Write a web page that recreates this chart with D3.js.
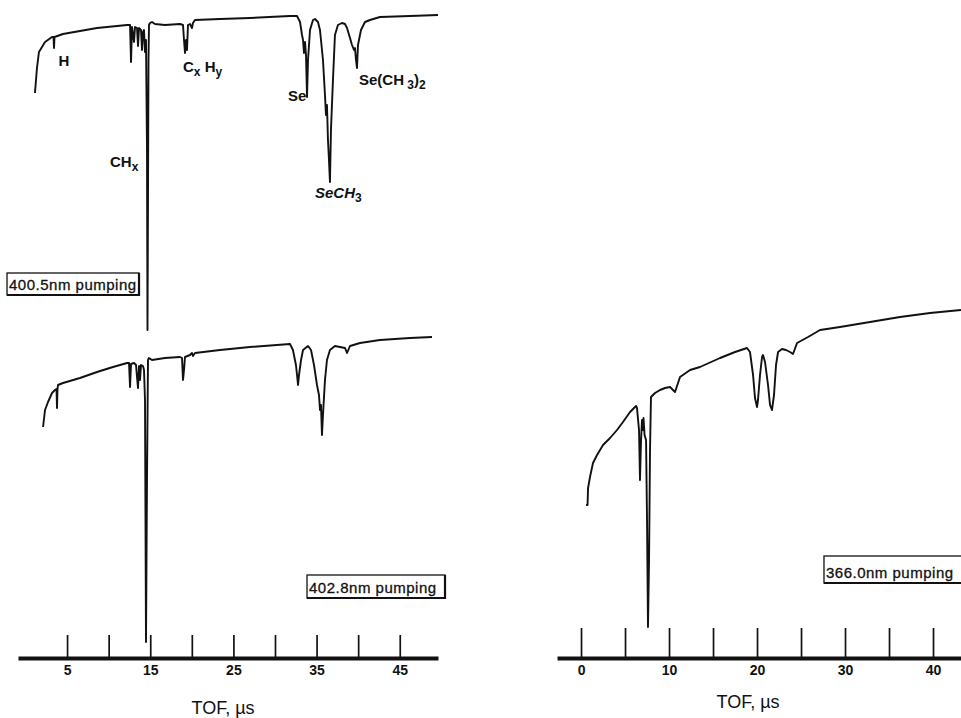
<!DOCTYPE html>
<html>
<head>
<meta charset="utf-8">
<script src="https://cdn.jsdelivr.net/npm/d3@7"></script>
<style>
  body { margin: 0; background: #fff; }
  text { font-family: "Liberation Sans", Arial, Helvetica, sans-serif; fill: #111; }
</style>
</head>
<body>
<div id="chart"></div>
<script>
// TOF traces: time in microseconds, signal in arbitrary units (ion peaks are dips)
var topTof = [1.14,1.38,1.62,2.35,3.19,3.37,3.43,3.49,4.51,6.55,8.60,12.21,12.57,12.69,12.81,13.05,13.17,13.41,13.53,13.65,
  13.89,14.01,14.13,14.25,14.37,14.49,14.61,14.67,14.73,14.79,14.85,14.97,15.21,15.57,16.77,18.58,18.94,19.06,19.18,19.30,
  19.42,19.54,19.78,20.02,20.14,20.38,23.39,26.99,31.80,32.65,33.01,33.25,33.37,33.49,33.61,33.73,33.85,33.97,34.21,34.57,
  34.81,35.17,35.41,35.77,36.01,36.13,36.25,36.37,36.49,36.61,36.73,36.97,37.21,37.57,38.05,38.42,38.66,39.02,39.26,39.50,
  39.62,39.74,39.86,39.98,40.34,40.82,41.42,42.62,46.23,49.60];
var topSignal = [247,272,288,298,303,303,292,303,306,309,312,315,315,278,313,298,313,312,294,312,
  310,290,308,310,288,300,190,10,140,280,315,317,318,316,315,316,315,300,287,300,
  290,315,316,312,317,320,321,322,324,324,318,305,300,287,298,285,243,280,310,320,
  321,318,310,280,245,225,235,200,180,158,210,260,305,315,317,316,312,302,295,290,
  292,280,272,295,310,318,320,323,324,325];

var lowTof = [2.11,2.35,2.71,3.19,3.55,3.73,3.79,3.85,3.91,4.51,6.55,8.60,10.52,12.21,12.45,12.57,12.69,13.05,13.29,13.41,
  13.53,13.65,13.77,13.89,14.13,14.25,14.37,14.49,14.61,14.73,14.85,15.21,16.77,18.58,18.82,18.94,19.06,19.18,19.78,20.02,
  20.14,20.38,23.39,26.99,31.80,32.16,32.40,32.52,32.65,32.77,32.89,33.13,33.37,33.97,34.33,34.69,35.05,35.29,35.41,35.53,
  35.65,35.77,36.01,36.25,36.61,37.21,37.81,38.42,38.66,39.02,40.22,42.62,46.23,48.88];
var lowSignal = [233,250,258,267,270,271,252,271,275,277,282,288,293,297,297,273,296,297,295,283,
  272,294,280,295,294,290,260,18,180,300,302,300,302,303,302,280,290,303,305,307,
  304,307,310,313,316,310,300,295,285,275,285,300,310,314,310,295,275,265,250,255,
  225,245,280,300,310,314,313,312,307,314,317,320,322,323];

var rightTof = [0.57,0.74,0.80,1.02,1.36,1.82,2.50,3.30,4.09,4.77,5.57,6.25,6.36,6.59,6.70,6.82,6.93,7.05,7.10,7.22,
  7.39,7.50,7.61,7.73,7.84,7.95,8.41,8.98,9.55,10.11,10.68,11.25,12.39,13.52,15.80,17.50,18.86,19.20,19.55,19.77,
  20.00,20.11,20.34,20.57,20.68,20.91,21.25,21.48,21.70,21.93,22.16,22.39,22.84,23.30,23.75,24.09,24.55,25.80,27.16,29.43,
  32.84,36.25,39.66,43.18];
var rightSignal = [155,155,172,183,197,205,215,222,230,238,248,254,252,230,180,220,240,230,242,225,
  220,140,33,100,210,263,267,270,272,273,268,283,290,293,302,308,312,308,285,262,
  253,260,285,303,305,298,275,255,250,265,295,308,311,310,308,306,317,323,330,333,
  338,343,347,350];

// tick values and which ones carry a label
var leftTicks = [5, 10, 15, 20, 25, 30, 35, 40, 45];
var leftTickLabels = [5, 15, 25, 35, 45];
var rightTicks = [0, 5, 10, 15, 20, 25, 30, 35, 40];
var rightTickLabels = [0, 10, 20, 30, 40];

// peak assignments of the top trace (anchor in tof / signal units), parts: [text, "sub"?]
var peakLabels = [
  { tof: 4.63, signal: 274, anchor: "middle", parts: [["H"]] },
  { tof: 10.16, signal: 173, anchor: "start", parts: [["CH"], ["x", "sub"]] },
  { tof: 18.94, signal: 268, anchor: "start", parts: [["C"], ["x", "sub"], [" H"], ["y", "sub"]] },
  { tof: 31.56, signal: 239, anchor: "start", parts: [["Se"]] },
  { tof: 34.81, signal: 142, anchor: "start", italic: true, parts: [["SeCH"], ["3", "sub"]] },
  { tof: 40.10, signal: 255, anchor: "start", parts: [["Se(CH"], [" 3", "sub"], [")"], ["2", "sub"]] }
];

var width = 961, height = 718;

var svg = d3.select("#chart")
  .append("svg")
  .attr("width", width)
  .attr("height", height)
  .style("background", "#fff");

// scales: the two left traces share one time axis
var leftX = d3.scaleLinear().domain([-0.9, 49.6]).range([18, 438]);
var rightX = d3.scaleLinear().domain([-2.73, 43.18]).range([557, 961]);
var topY = d3.scaleLinear().domain([0, 340]).range([340, 0]);
var lowY = d3.scaleLinear().domain([0, 340]).range([660, 320]);
var rightY = d3.scaleLinear().domain([0, 370]).range([660, 290]);

function drawTrace(xs, ys, tof, signal) {
  var pts = tof.map(function (t, i) { return [t, signal[i]]; });
  var line = d3.line()
    .x(function (d) { return xs(d[0]); })
    .y(function (d) { return ys(d[1]); });
  svg.append("path")
    .datum(pts)
    .attr("d", line)
    .attr("fill", "none")
    .attr("stroke", "#111")
    .attr("stroke-width", 1.9)
    .attr("stroke-linejoin", "round");
}

drawTrace(leftX, topY, topTof, topSignal);
drawTrace(leftX, lowY, lowTof, lowSignal);
drawTrace(rightX, rightY, rightTof, rightSignal);

// time axes, ticks pointing up, labels below
function drawAxis(xs, ticks, labels, tickLen) {
  var g = svg.append("g")
    .attr("transform", "translate(0,658)")
    .call(d3.axisBottom(xs)
      .tickValues(ticks)
      .tickSizeInner(-tickLen)
      .tickSizeOuter(0)
      .tickPadding(7)
      .tickFormat(function (d) { return labels.indexOf(d) >= 0 ? d : ""; }));
  g.attr("font-family", null).attr("font-size", null);
  g.select(".domain").attr("stroke", "#111").attr("stroke-width", 4);
  g.selectAll(".tick line").attr("stroke", "#111").attr("stroke-width", 1.7);
  g.selectAll(".tick text")
    .attr("fill", "#111")
    .style("font-size", "14px")
    .style("font-weight", "bold");
}

drawAxis(leftX, leftTicks, leftTickLabels, 23);
drawAxis(rightX, rightTicks, rightTickLabels, 30);

svg.append("text")
  .attr("x", 223).attr("y", 714)
  .attr("text-anchor", "middle")
  .style("font-size", "18px")
  .text("TOF, µs");

svg.append("text")
  .attr("x", 748).attr("y", 708)
  .attr("text-anchor", "middle")
  .style("font-size", "18px")
  .text("TOF, µs");

// peak labels with subscripts
peakLabels.forEach(function (p) {
  var t = svg.append("text")
    .attr("x", leftX(p.tof))
    .attr("y", topY(p.signal))
    .attr("text-anchor", p.anchor)
    .style("font-size", "15px")
    .style("font-weight", "bold")
    .style("font-style", p.italic ? "italic" : "normal");
  var down = false;
  p.parts.forEach(function (part) {
    var sub = part[1] === "sub";
    var dy = 0;
    if (sub && !down) { dy = 4; down = true; }
    else if (!sub && down) { dy = -4; down = false; }
    t.append("tspan")
      .attr("dy", dy)
      .style("font-size", sub ? "12px" : "15px")
      .style("font-style", sub ? "normal" : null)
      .text(part[0]);
  });
});

// excitation wavelength boxes
function drawBox(xs, ys, tof, signal, w, h, label) {
  var x0 = xs(tof), y0 = ys(signal);
  svg.append("rect")
    .attr("x", x0).attr("y", y0)
    .attr("width", w).attr("height", h)
    .attr("fill", "#fff")
    .attr("stroke", "#111")
    .attr("stroke-width", 1.3);
  // heavier right and bottom edge, like the printed frame
  svg.append("path")
    .attr("d", "M" + (x0 + w) + "," + y0 + "V" + (y0 + h) + "H" + x0)
    .attr("fill", "none")
    .attr("stroke", "#111")
    .attr("stroke-width", 2.2);
  svg.append("text")
    .attr("x", x0 + 2)
    .attr("y", y0 + h - 5)
    .style("font-size", "15px")
    .style("letter-spacing", "0.5px")
    .style("stroke", "#111")
    .style("stroke-width", 0.3)
    .text(label);
}

drawBox(leftX, topY, -2.22, 67, 132, 22, "400.5nm pumping");
drawBox(leftX, lowY, 33.85, 85, 138, 23, "402.8nm pumping");
drawBox(rightX, rightY, 27.61, 104, 150, 27, "366.0nm pumping");
</script>
</body>
</html>
